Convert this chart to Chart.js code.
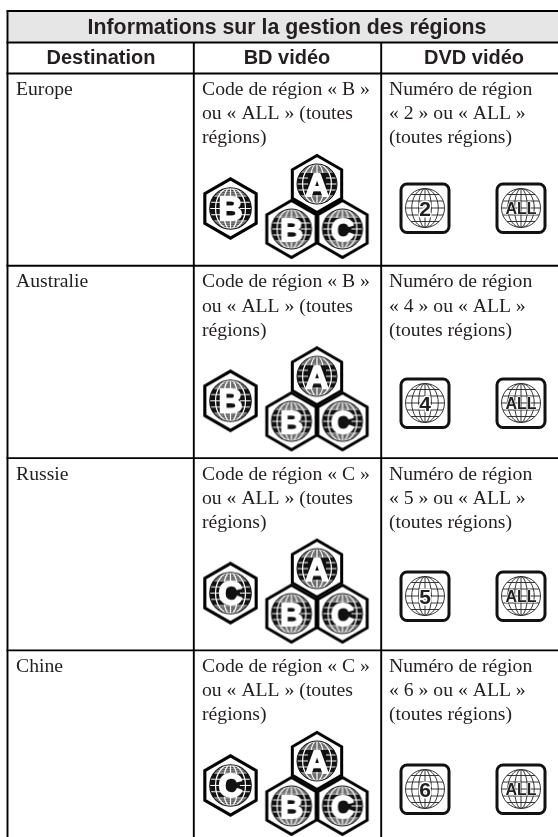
<!DOCTYPE html>
<html>
<head>
<meta charset="utf-8">
<title>Informations sur la gestion des régions</title>
<script src="https://cdn.jsdelivr.net/npm/chart.js@4/dist/chart.umd.min.js"></script>
<style>
  html, body { margin: 0; padding: 0; background: #fff; overflow: hidden; }
  canvas { display: block; }
</style>
</head>
<body>
<canvas id="regions" width="558" height="837"></canvas>
<script>
// table content
const title = 'Informations sur la gestion des régions';
const columns = ['Destination', 'BD vidéo', 'DVD vidéo'];
const destinations = ['Europe', 'Australie', 'Russie', 'Chine'];
const bdCodes = ['B', 'B', 'C', 'C'];
const dvdCodes = ['2', '4', '5', '6'];
const bdAllMarks = ['A', 'B', 'C'];
const dvdAllMark = 'ALL';

// table geometry, in page pixels
const colEdges = [7.5, 193.8, 381.2];
const topEdge = 11, titleEdge = 42.5, headEdge = 73.5;
const rowHeight = 192.3;
const textX = [16, 202, 389];
const dvdBadgeY = [208, 403, 596, 789];
const INK = '#231f20';

function rowTop(i) { return headEdge + i * rowHeight; }

// hexagon badge used for BD region codes
function hexIcon(letter, k) {
  const size = Math.ceil(68 * k);
  const c = document.createElement('canvas');
  c.width = c.height = size;
  const g = c.getContext('2d');
  g.translate(size / 2, size / 2);
  g.scale(k, k);

  g.beginPath();
  for (let a = 0; a < 6; a++) {
    const t = Math.PI / 3 * a - Math.PI / 2;
    g.lineTo(28.5 * Math.cos(t), 28.5 * Math.sin(t));
  }
  g.closePath();
  g.fillStyle = '#fff';
  g.fill();
  g.lineWidth = 3;
  g.lineJoin = 'miter';
  g.strokeStyle = '#000';
  g.stroke();

  const r = 20;
  g.save();
  g.beginPath();
  g.arc(0, 0, r, 0, Math.PI * 2);
  g.clip();
  g.fillStyle = '#111';
  g.fillRect(-r, -r, 2 * r, 2 * r);
  g.strokeStyle = '#fff';
  g.lineWidth = 1.1;
  // parallels
  for (let y = -12; y <= 12; y += 6) {
    g.beginPath(); g.moveTo(-r, y); g.lineTo(r, y); g.stroke();
  }
  // fine hatch at the poles
  g.lineWidth = 0.8;
  for (let y = 14; y <= 20; y += 2) {
    g.beginPath(); g.moveTo(-r, y); g.lineTo(r, y); g.stroke();
    g.beginPath(); g.moveTo(-r, -y); g.lineTo(r, -y); g.stroke();
  }
  // meridians
  g.lineWidth = 1.2;
  [0.36, 0.72].forEach(f => {
    g.beginPath(); g.ellipse(0, 0, r * f, r, 0, 0, Math.PI * 2); g.stroke();
  });
  g.beginPath(); g.moveTo(0, -r); g.lineTo(0, r); g.stroke();
  // solid ground behind the letter so its counters read black
  g.fillStyle = '#111';
  g.fillRect(-9, -11, 18, 22);
  g.restore();
  g.beginPath();
  g.arc(0, 0, r, 0, Math.PI * 2);
  g.lineWidth = 1;
  g.strokeStyle = '#111';
  g.stroke();

  g.font = 'bold 32px "Liberation Sans"';
  g.textAlign = 'center';
  g.textBaseline = 'alphabetic';
  g.lineJoin = 'round';
  g.strokeStyle = '#fff';
  g.fillStyle = '#fff';
  g.lineWidth = 1.8;
  g.strokeText(letter, 0, 11.5);
  g.fillText(letter, 0, 11.5);
  return c;
}

// rounded square badge used for DVD region numbers
function dvdIcon(mark) {
  const c = document.createElement('canvas');
  c.width = c.height = 60;
  const g = c.getContext('2d');
  g.translate(30, 30);

  g.beginPath();
  g.roundRect(-24, -24, 48, 48.5, 6);
  g.fillStyle = '#fff';
  g.fill();
  g.lineWidth = 3;
  g.strokeStyle = '#111';
  g.stroke();

  const r = 19.5;
  g.strokeStyle = '#222';
  g.lineWidth = 0.9;
  g.beginPath(); g.arc(0, 0, r, 0, Math.PI * 2); g.stroke();
  g.save();
  g.beginPath(); g.arc(0, 0, r, 0, Math.PI * 2); g.clip();
  [0.33, 0.68].forEach(f => {
    g.beginPath(); g.ellipse(0, 0, r * f, r, 0, 0, Math.PI * 2); g.stroke();
  });
  g.beginPath(); g.moveTo(0, -r); g.lineTo(0, r); g.stroke();
  [-13.5, -7, 0, 7, 13.5].forEach(y => {
    g.beginPath(); g.moveTo(-r, y); g.lineTo(r, y); g.stroke();
  });
  g.restore();

  g.textAlign = 'center';
  g.textBaseline = 'alphabetic';
  g.lineJoin = 'round';
  if (mark === dvdAllMark) {
    g.font = 'bold 16px "Liberation Sans"';
    g.strokeStyle = '#fff';
    g.lineWidth = 1;
    g.strokeText(mark, 0, 6);
    g.fillStyle = '#222';
    g.fillText(mark, 0, 6);
  } else {
    g.font = 'bold 21px "Liberation Sans"';
    g.strokeStyle = '#fff';
    g.lineWidth = 3;
    g.strokeText(mark, 0, 8);
    g.fillStyle = '#222';
    g.fillText(mark, 0, 8);
  }
  return c;
}

// one scatter point per badge, row by row
const tripleOffset = { A: [317, 110.5], B: [291.5, 155.5], C: [342.5, 155.5] };
const badgePoints = [];
const badgeStyles = [];
function addBadge(x, y, style) {
  badgePoints.push({ x, y });
  badgeStyles.push(style);
}
destinations.forEach((_, i) => {
  const top = rowTop(i);
  addBadge(230.5, top + 135, hexIcon(bdCodes[i], 1.04));
  bdAllMarks.forEach(m => addBadge(tripleOffset[m][0], top + tripleOffset[m][1], hexIcon(m, 1)));
  addBadge(425, dvdBadgeY[i], dvdIcon(dvdCodes[i]));
  addBadge(521, dvdBadgeY[i], dvdIcon(dvdAllMark));
});

const tablePlugin = {
  id: 'tablePlugin',
  beforeDatasetsDraw(chart) {
    const { ctx, scales: { x, y } } = chart;
    ctx.save();
    ctx.fillStyle = '#e6e6e6';
    ctx.fillRect(x.getPixelForValue(colEdges[0]), y.getPixelForValue(topEdge),
      x.getPixelForValue(558) - x.getPixelForValue(colEdges[0]), y.getPixelForValue(titleEdge) - y.getPixelForValue(topEdge));

    ctx.strokeStyle = '#000';
    ctx.lineWidth = 1.9;
    const hLines = [topEdge, titleEdge, headEdge];
    for (let i = 1; i < destinations.length; i++) hLines.push(rowTop(i));
    hLines.forEach(v => {
      ctx.beginPath();
      ctx.moveTo(x.getPixelForValue(colEdges[0]) - 1, y.getPixelForValue(v));
      ctx.lineTo(x.getPixelForValue(558), y.getPixelForValue(v));
      ctx.stroke();
    });
    colEdges.forEach((v, i) => {
      ctx.beginPath();
      ctx.moveTo(x.getPixelForValue(v), y.getPixelForValue(i === 0 ? topEdge : titleEdge));
      ctx.lineTo(x.getPixelForValue(v), y.getPixelForValue(837));
      ctx.stroke();
    });

    ctx.fillStyle = INK;
    ctx.textBaseline = 'alphabetic';
    ctx.textAlign = 'center';
    ctx.font = 'bold 21.3px "Liberation Sans"';
    ctx.fillText(title, x.getPixelForValue(287), y.getPixelForValue(33.5));
    ctx.font = 'bold 20px "Liberation Sans"';
    ctx.fillText(columns[0], x.getPixelForValue(101), y.getPixelForValue(63.5));
    ctx.fillText(columns[1], x.getPixelForValue(287), y.getPixelForValue(63.5));
    ctx.fillText(columns[2], x.getPixelForValue(474), y.getPixelForValue(63.5));

    ctx.textAlign = 'left';
    ctx.font = '19.7px "Liberation Serif"';
    destinations.forEach((name, i) => {
      const base = rowTop(i) + 21.5;
      ctx.fillText(name, x.getPixelForValue(textX[0]), y.getPixelForValue(base));
      const bdLines = [`Code de région « ${bdCodes[i]} »`, 'ou « ALL » (toutes', 'régions)'];
      const dvdLines = ['Numéro de région', `« ${dvdCodes[i]} » ou « ALL »`, '(toutes régions)'];
      bdLines.forEach((s, n) => ctx.fillText(s, x.getPixelForValue(textX[1]), y.getPixelForValue(base + n * 24.2)));
      dvdLines.forEach((s, n) => ctx.fillText(s, x.getPixelForValue(textX[2]), y.getPixelForValue(base + n * 24.2)));
    });
    ctx.restore();
  }
};

new Chart(document.getElementById('regions'), {
  type: 'scatter',
  data: {
    datasets: [{
      data: badgePoints,
      pointStyle: badgeStyles,
      pointRadius: 30,
      pointHoverRadius: 30,
      showLine: false
    }]
  },
  options: {
    responsive: false,
    animation: false,
    events: [],
    layout: { padding: 0, autoPadding: false },
    plugins: { legend: { display: false }, tooltip: { enabled: false } },
    scales: {
      x: { type: 'linear', display: false, min: 0, max: 558 },
      y: { type: 'linear', display: false, min: 0, max: 837, reverse: true }
    }
  },
  plugins: [tablePlugin]
});
</script>
</body>
</html>
